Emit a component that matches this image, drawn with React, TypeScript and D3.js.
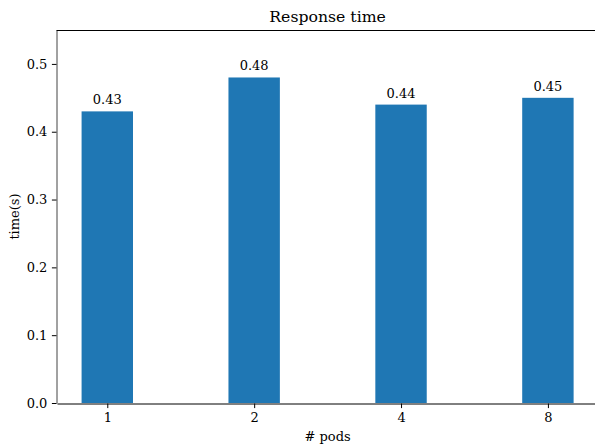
import * as d3 from 'd3'
import { useEffect, useRef } from 'react'

const pods = ['1', '2', '4', '8']
const responseTimes = [0.43, 0.48, 0.44, 0.45]
const yTicks = [0.0, 0.1, 0.2, 0.3, 0.4, 0.5]

export default function App() {
  const ref = useRef<SVGSVGElement>(null)

  useEffect(() => {
    const svg = d3.select(ref.current)
    svg.selectAll('*').remove()
    const width = 595
    const height = 447
    const margin = { top: 30, bottom: 44, left: 57 }
    const font = 'DejaVu Serif'

    // matplotlib-like: integer positions, bar width 0.35
    const x = d3
      .scaleLinear()
      .domain([-0.3424, pods.length - 1 + 0.3424])
      .range([margin.left, 598.2])
    const y = d3
      .scaleLinear()
      .domain([0, 0.55])
      .range([height - margin.bottom, margin.top])
    const barW = 0.35

    svg
      .append('g')
      .attr('fill', '#1f77b4')
      .selectAll('rect')
      .data(responseTimes)
      .join('rect')
      .attr('x', (d, i) => x(i - barW / 2))
      .attr('width', x(barW) - x(0))
      .attr('y', (d) => y(d))
      .attr('height', (d) => y(0) - y(d))

    svg
      .append('g')
      .selectAll('text')
      .data(responseTimes)
      .join('text')
      .attr('x', (d, i) => x(i))
      .attr('y', (d) => y(d) - 7)
      .attr('text-anchor', 'middle')
      .attr('font-family', font)
      .attr('font-size', 13)
      .attr('fill', '#000')
      .text((d) => d.toFixed(2))

    const yAxis = svg
      .append('g')
      .attr('transform', `translate(${margin.left - 0.5},0)`)
      .call(
        d3
          .axisLeft(y)
          .tickValues(yTicks)
          .tickFormat(d3.format('.1f'))
          .tickSize(4.6)
          .tickPadding(4.5)
          .tickSizeOuter(0)
      )
    yAxis.selectAll('text').attr('font-family', font).attr('font-size', 13).attr('fill', '#000')
    yAxis.select('.domain').attr('stroke', '#444')

    const xAxis = svg
      .append('g')
      .attr('transform', `translate(0,${y(0) + 0.5})`)
      .call(
        d3
          .axisBottom(x)
          .tickValues(d3.range(pods.length))
          .tickFormat((d) => pods[d as number])
          .tickSize(4.6)
          .tickPadding(4.5)
          .tickSizeOuter(0)
      )
    xAxis.selectAll('text').attr('font-family', font).attr('font-size', 13).attr('fill', '#000')

    // top spine
    svg
      .append('line')
      .attr('x1', margin.left - 0.5)
      .attr('x2', 598.2)
      .attr('y1', margin.top + 0.5)
      .attr('y2', margin.top + 0.5)
      .attr('stroke', '#000')

    svg
      .append('text')
      .attr('x', (x.range()[0] + x.range()[1]) / 2)
      .attr('y', 22)
      .attr('text-anchor', 'middle')
      .attr('font-family', font)
      .attr('font-size', 15.7)
      .text('Response time')

    svg
      .append('text')
      .attr('x', (x.range()[0] + x.range()[1]) / 2)
      .attr('y', 441)
      .attr('text-anchor', 'middle')
      .attr('font-family', font)
      .attr('font-size', 13)
      .text('# pods')

    svg
      .append('text')
      .attr('transform', `translate(19,${(y(0) + y(0.55)) / 2}) rotate(-90)`)
      .attr('text-anchor', 'middle')
      .attr('font-family', font)
      .attr('font-size', 13)
      .text('time(s)')
  }, [])

  return (
    <svg
      ref={ref}
      width={595}
      height={447}
      style={{ position: 'absolute', left: 0, top: 0, background: '#fff' }}
    />
  )
}
